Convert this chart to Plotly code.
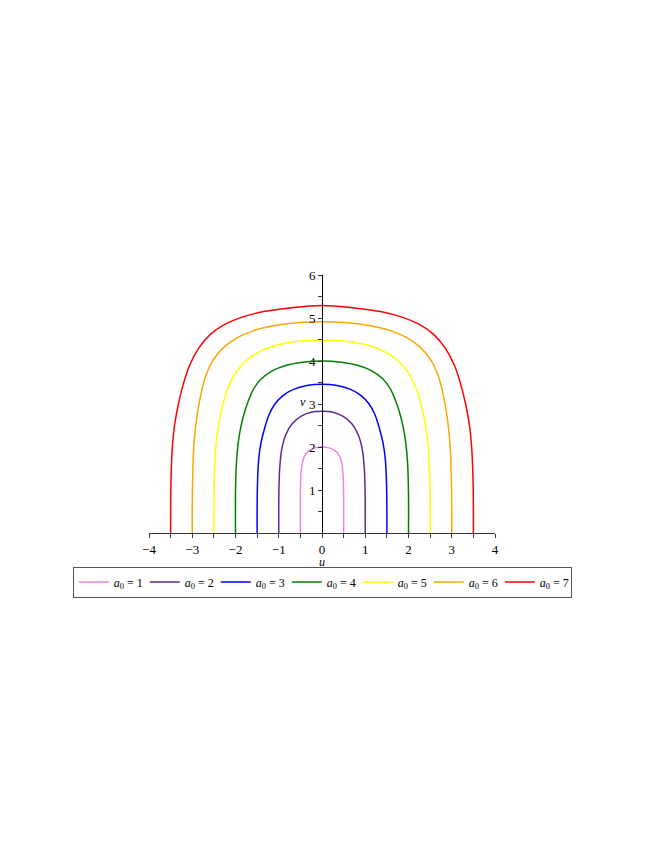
import plotly.graph_objects as go

# parameter values of the curves
a0_values = [1, 2, 3, 4, 5, 6, 7]
colors = ["#EE82EE", "#5B2A96", "#0000FF", "#008000", "#FFFF00", "#FFA500", "#FF0000"]

# points (left half, from the top at u=0 down to the base v=0)
u_left = {
    1: [0.0, -0.16, -0.31, -0.41, -0.465, -0.49, -0.50, -0.50, -0.50],
    2: [0.0, -0.25, -0.48, -0.69, -0.84, -0.93, -0.975, -0.995, -1.00, -1.00],
    3: [0.0, -0.35, -0.66, -0.91, -1.09, -1.22, -1.32, -1.41, -1.465, -1.49, -1.50, -1.50],
    4: [0.0, -0.45, -0.82, -1.15, -1.41, -1.58, -1.70, -1.80, -1.88, -1.94, -1.98, -2.00, -2.00],
    5: [0.0, -0.55, -1.02, -1.42, -1.73, -1.96, -2.12, -2.24, -2.33, -2.40, -2.45, -2.49, -2.50, -2.50],
    6: [0.0, -0.58, -1.12, -1.60, -1.98, -2.29, -2.52, -2.68, -2.79, -2.87, -2.93, -2.965, -2.99, -3.00, -3.00],
    7: [0.0, -0.70, -1.35, -1.85, -2.25, -2.58, -2.85, -3.06, -3.21, -3.32, -3.41, -3.46, -3.49, -3.50, -3.50],
}
v_left = {
    1: [2.00, 1.98, 1.91, 1.78, 1.58, 1.30, 0.90, 0.40, 0.0],
    2: [2.83, 2.81, 2.72, 2.54, 2.28, 1.95, 1.55, 1.05, 0.50, 0.0],
    3: [3.46, 3.43, 3.34, 3.19, 3.00, 2.76, 2.46, 2.10, 1.70, 1.20, 0.60, 0.0],
    4: [4.00, 3.97, 3.90, 3.77, 3.58, 3.35, 3.08, 2.78, 2.45, 2.08, 1.60, 0.90, 0.0],
    5: [4.48, 4.46, 4.38, 4.23, 4.03, 3.78, 3.50, 3.18, 2.82, 2.45, 2.05, 1.30, 0.60, 0.0],
    6: [4.91, 4.89, 4.82, 4.70, 4.53, 4.30, 4.02, 3.68, 3.27, 2.85, 2.40, 2.00, 1.30, 0.60, 0.0],
    7: [5.29, 5.24, 5.15, 5.02, 4.85, 4.62, 4.30, 3.90, 3.45, 3.00, 2.50, 2.00, 1.30, 0.60, 0.0],
}

x_ticks = [-4, -3, -2, -1, 0, 1, 2, 3, 4]
y_ticks = [1, 2, 3, 4, 5, 6]

fig = go.Figure()
for a0, col in zip(a0_values, colors):
    ul = u_left[a0]
    vl = v_left[a0]
    # left half from base to top, then mirrored right half from top to base
    xs = list(reversed(ul)) + [-u for u in ul[1:]]
    ys = list(reversed(vl)) + vl[1:]
    fig.add_trace(go.Scatter(
        x=xs, y=ys, mode="lines",
        line=dict(color=col, width=1.5, shape="spline", smoothing=1.0),
        name=f"<i>a</i><sub>0</sub> = {a0}",
    ))

serif = "Liberation Serif"

fig.update_layout(
    width=664, height=860,
    margin=dict(l=141, r=177, t=267, b=335),
    paper_bgcolor="white", plot_bgcolor="white",
    font=dict(family=serif, size=13, color="black"),
    showlegend=True,
    legend=dict(
        orientation="h",
        x=1.222, y=-0.130, xanchor="right", yanchor="top",
        bordercolor="#555", borderwidth=1, bgcolor="white",
        font=dict(family=serif, size=12, color="black"),
        entrywidth=26, entrywidthmode="pixels", tracegroupgap=0,
    ),
    xaxis=dict(
        range=[-4, 4], showgrid=False, zeroline=False,
        showline=True, linecolor="#333", linewidth=1,
        ticks="outside", ticklen=4, tickcolor="#333",
        tickvals=x_ticks, ticktext=[str(t).replace("-", "\u2212") for t in x_ticks],
        minor=dict(dtick=0.5, ticks="outside", ticklen=4, tickcolor="#333", showgrid=False),
        tickfont=dict(family=serif, size=13),
        automargin=False, fixedrange=True,
    ),
    yaxis=dict(
        range=[0, 6], showgrid=False, zeroline=False,
        showline=True, linecolor="black", linewidth=1,
        anchor="free", position=0.5, side="left",
        ticks="outside", ticklen=4, tickcolor="#333",
        tickvals=y_ticks,
        minor=dict(dtick=0.5, ticks="outside", ticklen=4, tickcolor="#333", showgrid=False),
        tickfont=dict(family=serif, size=13),
        automargin=False, fixedrange=True,
    ),
    annotations=[
        dict(x=0, y=-0.113, xref="x", yref="paper", text="<i>u</i>", showarrow=False,
             font=dict(family=serif, size=12), xanchor="center", yanchor="middle"),
        dict(x=-0.44, y=3.05, xref="x", yref="y", text="<i>v</i>", showarrow=False,
             font=dict(family=serif, size=12), xanchor="center", yanchor="middle"),
    ],
)

fig.write_html("out.html")
